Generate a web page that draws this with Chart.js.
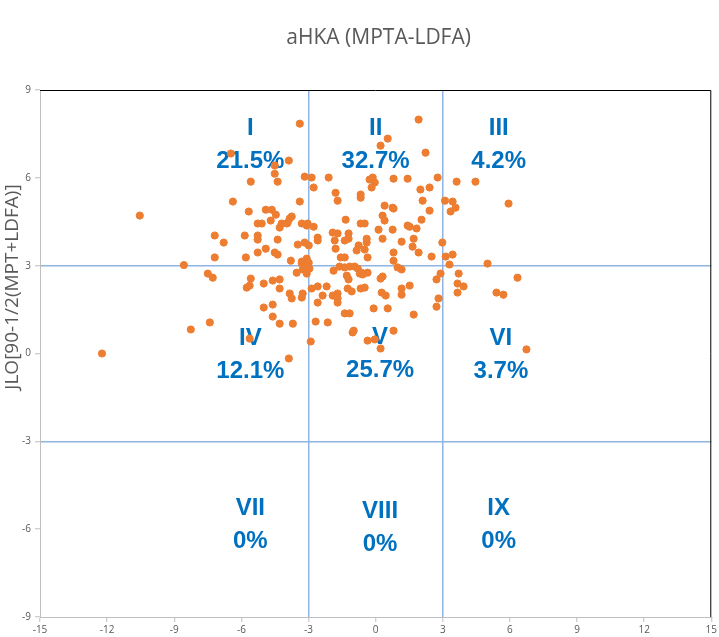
<!DOCTYPE html>
<html lang="en">
<head>
<meta charset="UTF-8">
<title>aHKA (MPTA-LDFA)</title>
<script src="https://cdn.jsdelivr.net/npm/chart.js"></script>
<style>
  html, body { margin: 0; padding: 0; background: #fff; }
  #wrap { width: 719px; height: 637px; }
</style>
</head>
<body>
<div id="wrap"><canvas id="scatter" width="719" height="637"></canvas></div>
<script>
// aHKA (x) and JLO (y) per knee
const ahka = [
  -10.54, -8.57, -3.39, -6.47, -3.88, -4.51, -4.51, -3.17, -5.58, -4.38, -6.38, -3.39, -5.67, -4.91, -4.64, -4.46,
  -4.69, -3.75, -3.84, -3.93, -3.97, -4.2, -4.29, -5.27, -5.09, -3.3, -3.08, -3.04, -7.19, -5.85, -5.27, -6.79,
  -5.27, -4.38, -3.48, -3.17, -7.19, -5.8, -5.27, -4.91, -4.51, -4.38, -3.79, -3.3, -3.08, -3.3,
  0.54, 0.22, -2.86, -2.1, -2.77, -0.27, -0.13, -0.04, -0.18, 0.8, 1.43, -1.79, -1.7, -0.67, -0.67, 0.4,
  0.76, 0.8, 0.31, 0.4, -1.34, -2.77, -0.67, -0.49, 1.43, 1.83, 0.13, 0.76, -1.92, -1.7, -1.21, 1.92,
  2.0, 2.23, 2.77, 2.41, 2.1, 2.41, 2.05, 1.52, 1.7, 1.65, 1.92, 2.5, 2.98, -2.59, -2.59, -2.99,
  -1.83, -1.79, -1.21, -1.38, -0.76, -0.85, -0.4, -0.4, -0.49, 1.16, 0.8, 0.8, -0.36, -1.56, -1.38, -2.99, 0.31,
  3.62, 4.46, 3.1, 3.44, 3.57, 3.35, 5.94, 3.13, 3.44, 3.3, 5.0,
  -12.23, -7.5, -7.28, -5.58, -5.76, -5.63, -5.0, -4.6, -4.29, -4.29, -3.53, -3.26, -3.84, -3.75, -3.3, -3.26,
  -5.0, -4.6, -4.6, -4.29, -3.7, -7.41, -8.26, -5.63, -3.88, -3.17, -3.08,
  -2.96, -1.88, -1.61, -1.38, -1.16, -0.94, -0.8, -0.63, -0.36, -1.29, -1.21, -0.71, -0.58, 0.22, 0.31, 0.98,
  1.16, -0.67, -0.49, -1.25, -1.07, 0.27, 0.45, 1.16, 1.16, 1.52, -2.86, -2.59, -2.19, -2.37, -1.92, -1.7,
  -1.7, -1.7, -2.59, -0.09, 0.54, -1.38, -1.16, -2.68, -2.14, -1.03, -0.98, 0.8, -0.36, -0.04, 0.22, -2.9,
  2.9, 2.72, 2.81, 2.72, 1.7,
  3.71, 3.66, 3.93, 3.66, 6.34, 5.4, 5.71, 6.74
];
const jlo = [
  4.71, 3.02, 7.85, 6.83, 6.59, 6.42, 6.14, 6.04, 5.87, 5.87, 5.19, 5.19, 4.85, 4.91, 4.91, 4.74,
  4.54, 4.68, 4.61, 4.47, 4.44, 4.44, 4.3, 4.44, 4.44, 4.44, 4.37, 4.44, 4.03, 4.03, 4.03, 3.79,
  3.89, 3.89, 3.72, 3.79, 3.28, 3.28, 3.45, 3.58, 3.45, 3.38, 3.17, 3.14, 3.24, 3.07,
  7.34, 7.1, 6.01, 6.01, 5.67, 5.94, 6.01, 5.84, 5.67, 5.97, 5.97, 5.49, 5.22, 5.43, 5.32, 5.05,
  4.98, 4.95, 4.71, 4.54, 4.57, 4.33, 4.44, 4.44, 4.37, 4.27, 4.23, 4.23, 4.13, 4.1, 4.1, 7.99,
  5.6, 6.86, 6.01, 5.67, 5.22, 4.88, 4.57, 4.33, 3.92, 3.65, 3.45, 3.31, 3.79, 3.96, 3.86, 3.69,
  3.86, 3.58, 3.92, 3.86, 3.69, 3.52, 3.79, 3.92, 3.55, 3.82, 3.45, 3.17, 3.28, 3.28, 3.28, 3.1, 3.92,
  5.87, 5.87, 5.22, 5.19, 4.98, 4.85, 5.12, 3.31, 3.38, 3.04, 3.07,
  0.0, 2.73, 2.59, 2.56, 2.25, 2.32, 2.39, 2.49, 2.53, 2.22, 2.76, 2.87, 2.05, 1.88, 1.91, 2.05,
  1.57, 1.67, 1.26, 1.02, 1.02, 1.06, 0.82, 0.51, -0.17, 2.94, 2.73,
  2.9, 2.83, 2.97, 2.94, 2.97, 2.97, 2.9, 2.76, 2.76, 2.66, 2.53, 2.73, 2.7, 2.56, 2.63, 2.94,
  2.87, 2.22, 2.25, 2.22, 2.12, 2.08, 1.98, 2.22, 2.01, 2.32, 2.22, 2.29, 2.29, 1.98, 1.98, 2.05,
  1.88, 1.74, 1.74, 1.54, 1.54, 1.37, 1.37, 1.09, 1.06, 0.72, 0.78, 0.78, 0.44, 0.48, 0.17, 0.41,
  2.73, 2.53, 1.88, 1.6, 1.33,
  2.73, 2.39, 2.29, 2.08, 2.59, 2.08, 2.01, 0.14
];

// the nine zones, their share and where the label sits (data units)
const zoneNames = ['I', 'II', 'III', 'IV', 'V', 'VI', 'VII', 'VIII', 'IX'];
const zoneShares = ['21.5%', '32.7%', '4.2%', '12.1%', '25.7%', '3.7%', '0%', '0%', '0%'];
const zoneX = [-5.6, 0, 5.5, -5.6, 0.2, 5.6, -5.6, 0.2, 5.5];
const zoneY = [7.7, 7.7, 7.7, 0.5, 0.55, 0.5, -5.3, -5.4, -5.3];

const xTicks = [-15, -12, -9, -6, -3, 0, 3, 6, 9, 12, 15];
const yTicks = [-9, -6, -3, 0, 3, 6, 9];

const chartTitle = 'aHKA (MPTA-LDFA)';
const yTitle = 'JLO[90-1/2(MPT+LDFA)]';

const points = ahka.map((x, i) => ({ x: x, y: jlo[i] }));

const zoneLine = '#8db4e2';
const axisGrey = '#bfbfbf';
const textGrey = '#595959';

function gridColour(ctx) {
  const v = ctx.tick ? ctx.tick.value : null;
  if (v === 3 || v === -3) return zoneLine;
  return 'rgba(0,0,0,0)';
}

const extras = {
  id: 'extras',
  beforeDatasetsDraw(chart) {
    const c = chart.ctx;
    const a = chart.chartArea;
    const xs = chart.scales.x, ys = chart.scales.y;
    c.save();
    // frame on top and right
    c.strokeStyle = '#000';
    c.lineWidth = 1;
    c.beginPath();
    c.moveTo(a.left, a.top + 0.5);
    c.lineTo(a.right - 0.5, a.top + 0.5);
    c.lineTo(a.right - 0.5, a.bottom);
    c.stroke();
    // zone labels
    c.fillStyle = '#0070c0';
    c.font = 'bold 24px "Liberation Sans", Arial, sans-serif';
    c.textAlign = 'center';
    c.textBaseline = 'middle';
    zoneNames.forEach((name, i) => {
      const px = xs.getPixelForValue(zoneX[i]);
      const py = ys.getPixelForValue(zoneY[i]);
      c.fillText(name, px, py);
      c.fillText(zoneShares[i], px, py + 33);
    });
    c.restore();
  },
  afterDraw(chart) {
    const c = chart.ctx;
    const a = chart.chartArea;
    c.save();
    c.fillStyle = textGrey;
    c.textAlign = 'center';
    c.textBaseline = 'middle';
    c.font = '21px "Open Sans", sans-serif';
    c.fillText(chartTitle, (a.left + a.right) / 2 + 3, 38);
    c.translate(13, 287);
    c.rotate(-Math.PI / 2);
    c.font = '19px "Open Sans", sans-serif';
    c.fillText(yTitle, 0, 0);
    c.restore();
  }
};

new Chart(document.getElementById('scatter'), {
  type: 'scatter',
  data: {
    datasets: [{
      label: 'knees',
      data: points,
      backgroundColor: '#ed7d31',
      borderColor: '#ed7d31',
      pointRadius: 3.6,
      pointHoverRadius: 3.6
    }]
  },
  options: {
    responsive: false,
    animation: false,
    layout: { padding: { top: 90, right: 7, left: 0, bottom: 0 } },
    plugins: {
      legend: { display: false },
      title: { display: false },
      tooltip: { enabled: false }
    },
    scales: {
      x: {
        type: 'linear',
        min: -15,
        max: 15,
        afterBuildTicks: s => { s.ticks = xTicks.map(v => ({ value: v })); },
        afterFit: s => { s.height = 20; },
        grid: { color: gridColour, lineWidth: 1.5, tickColor: axisGrey, tickLength: 5, tickWidth: 1 },
        border: { color: axisGrey, width: 1 },
        ticks: { color: textGrey, font: { family: '"Open Sans", sans-serif', size: 10 }, padding: 2, maxRotation: 0 }
      },
      y: {
        type: 'linear',
        min: -9,
        max: 9,
        afterBuildTicks: s => { s.ticks = yTicks.map(v => ({ value: v })); },
        afterFit: s => { s.width = 40; },
        grid: { color: gridColour, lineWidth: 1.5, tickColor: axisGrey, tickLength: 5, tickWidth: 1 },
        border: { color: axisGrey, width: 1 },
        ticks: { color: textGrey, font: { family: '"Open Sans", sans-serif', size: 10 }, padding: 4 }
      }
    }
  },
  plugins: [extras]
});
</script>
</body>
</html>
